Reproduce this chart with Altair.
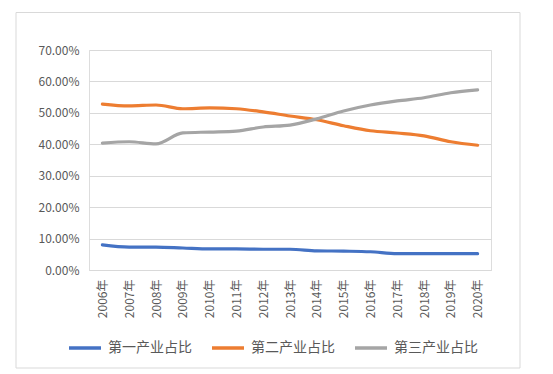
import altair as alt
import pandas as pd

years = [f"{y}年" for y in range(2006, 2021)]
series = ["第一产业占比", "第二产业占比", "第三产业占比"]
primary = [8.0, 7.3, 7.3, 7.0, 6.7, 6.7, 6.6, 6.6, 6.1, 6.0, 5.8, 5.2, 5.2, 5.2, 5.2]
secondary = [52.8, 52.2, 52.5, 51.3, 51.6, 51.3, 50.3, 49.0, 47.8, 45.9, 44.3, 43.6, 42.7, 40.8, 39.7]
tertiary = [40.4, 40.8, 40.1, 43.6, 43.9, 44.2, 45.5, 46.1, 48.1, 50.6, 52.5, 53.8, 54.8, 56.4, 57.3]
colors = ["#4472C4", "#ED7D31", "#A5A5A5"]
y_ticks = [0, 0.1, 0.2, 0.3, 0.4, 0.5, 0.6, 0.7]

rows = []
for name, vals in zip(series, [primary, secondary, tertiary]):
    for yr, v in zip(years, vals):
        rows.append({"年份": yr, "系列": name, "占比": v / 100})
df = pd.DataFrame(rows)

FONT = "Noto Sans CJK SC"
TXT = "#595959"

lines = alt.Chart(df).mark_line(strokeWidth=3.2, interpolate="monotone", strokeCap="round").encode(
    x=alt.X("年份:N", sort=years, scale=alt.Scale(type="point", padding=0.5),
            axis=alt.Axis(title=None, labelAngle=270, labelPadding=9, ticks=False,
                          domain=True, domainColor="#d9d9d9", grid=False,
                          labelColor=TXT, labelFont=FONT, labelFontSize=12)),
    y=alt.Y("占比:Q", scale=alt.Scale(domain=[0, 0.7], nice=False),
            axis=alt.Axis(title=None, format=".2%", values=y_ticks, ticks=False, domain=False,
                          gridColor="#d9d9d9", labelPadding=10,
                          labelColor=TXT, labelFont=FONT, labelFontSize=12)),
    color=alt.Color("系列:N", sort=series,
                    scale=alt.Scale(domain=series, range=colors),
                    legend=alt.Legend(title=None, orient="none", direction="horizontal",
                                      legendX=-22, legendY=280, symbolType="stroke",
                                      symbolSize=1024, symbolStrokeWidth=3.5,
                                      labelFont=FONT, labelFontSize=14, labelColor=TXT,
                                      columnPadding=13, labelOffset=5, padding=0)),
    order=alt.Order("系列:N"),
)

border = alt.Chart(alt.Data(values=[{}])).mark_rect(
    fill=None, stroke="#d9d9d9", strokeWidth=1
).encode(x=alt.value(-73), x2=alt.value(431), y=alt.value(-37.5), y2=alt.value(318))

chart = alt.layer(border, lines).properties(
    width=402, height=220,
    autosize=alt.AutoSizeParams(type="none"),
    padding={"left": 81, "top": 42, "right": 40, "bottom": 100},
).configure_view(stroke=None).configure(background="white")

chart.save("out.html", embed_options={"renderer": "svg", "actions": False})
